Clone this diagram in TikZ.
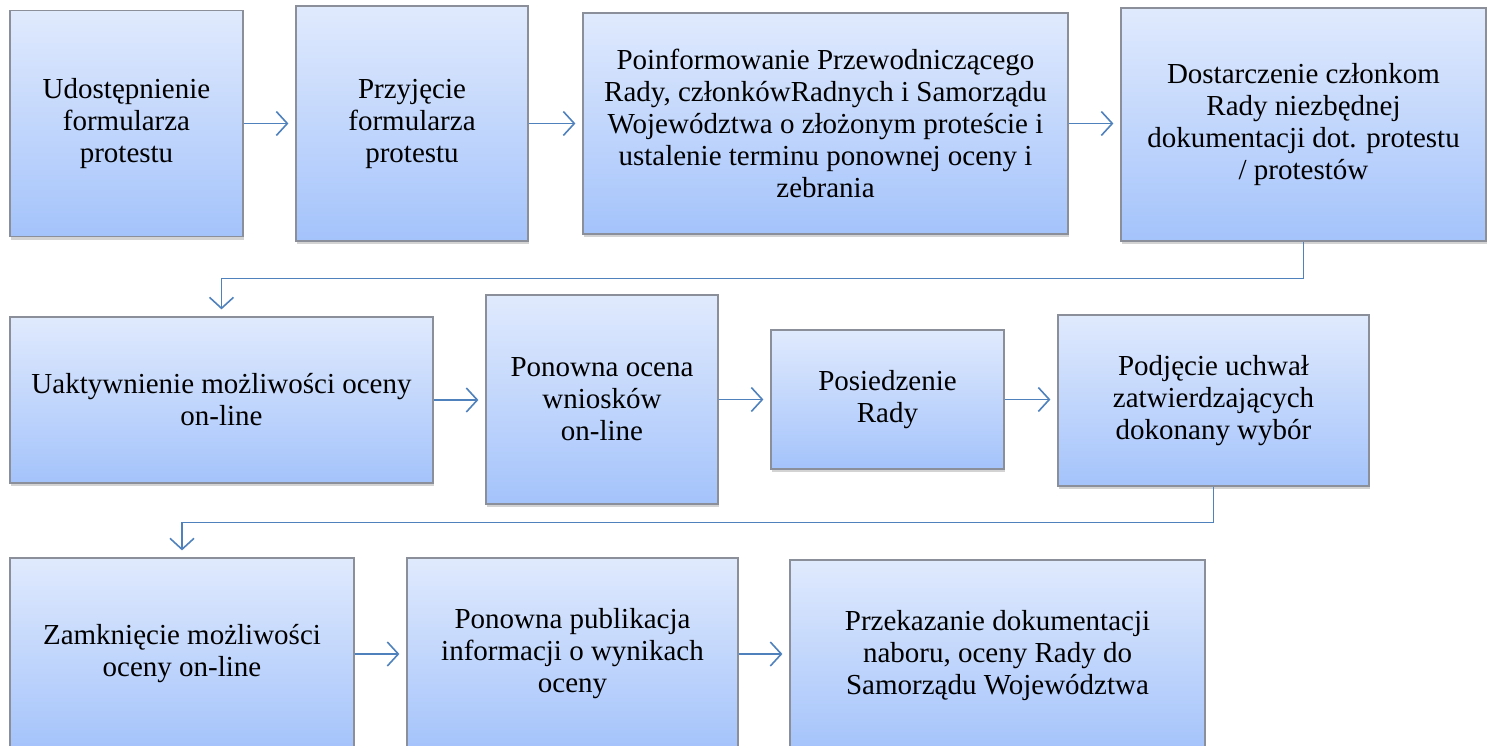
\documentclass[tikz,border=0pt]{standalone}
\usepackage{fontspec}
\setmainfont{Liberation Serif}
\usetikzlibrary{arrows.meta, shadows}

\definecolor{boxtop}{HTML}{E0EAFD}
\definecolor{boxbot}{HTML}{A4C3FB}
\definecolor{boxedge}{HTML}{8A8F99}
\definecolor{linkblue}{HTML}{4F81BD}

\begin{document}
\begin{tikzpicture}[
    x=1pt, y=-1pt,
    proc/.style={draw=boxedge, line width=1.2pt, top color=boxtop, bottom color=boxbot,
                 align=center, inner sep=4pt,
                 font=\fontsize{29}{32}\selectfont,
                 drop shadow={shadow xshift=1pt, shadow yshift=-3pt, opacity=0.35}},
    arr/.style={-{Straight Barb[length=11pt, width=24pt, line width=1.6pt]},
                line width=1.6pt, linkblue, shorten >=7pt}
]
\useasboundingbox (0,0) rectangle (1492,745);

% ---- Row 1 ----
\node[proc, minimum width=233pt, minimum height=226pt] (b1) at (126.5, 123.5)
    {Udostępnienie\\formularza\\protestu};
\node[proc, minimum width=232pt, minimum height=235pt] (b2) at (412, 123.5)
    {Przyjęcie\\formularza\\protestu};
\node[proc, minimum width=485pt, minimum height=221pt] (b3) at (825.5, 123.5)
    {Poinformowanie Przewodniczącego\\Rady, członkówRadnych i Samorządu\\Województwa o złożonym proteście i\\ustalenie terminu ponownej oceny i\\zebrania};
\node[proc, minimum width=365pt, minimum height=233pt] (b4) at (1303.5, 124.5)
    {Dostarczenie członkom\\Rady niezbędnej\\dokumentacji dot. protestu\\/ protestów};

% ---- Row 2 ----
\node[proc, minimum width=423pt, minimum height=166pt] (b5) at (221.5, 400)
    {Uaktywnienie możliwości oceny\\on-line};
\node[proc, minimum width=232pt, minimum height=209pt] (b6) at (602, 399.5)
    {Ponowna ocena\\wniosków\\on-line};
\node[proc, minimum width=233pt, minimum height=139pt] (b7) at (887.5, 399.5)
    {Posiedzenie\\Rady};
\node[proc, minimum width=311pt, minimum height=171pt] (b8) at (1213.5, 400.5)
    {Podjęcie uchwał\\zatwierdzających\\dokonany wybór};

% ---- Row 3 ----
\node[proc, minimum width=344pt, minimum height=192pt] (b9) at (182, 654)
    {Zamknięcie możliwości\\oceny on-line};
\node[proc, minimum width=331pt, minimum height=192pt] (b10) at (572.5, 654)
    {Ponowna publikacja\\informacji o wynikach\\oceny};
\node[proc, minimum width=415pt, minimum height=192pt] (b11) at (997.5, 656)
    {Przekazanie dokumentacji\\naboru, oceny Rady do\\Samorządu Województwa};

% ---- Connectors ----
\draw[arr] (b1.east) -- (b1.east -| b2.west);
\draw[arr] (b2.east) -- (b2.east -| b3.west);
\draw[arr] (b3.east) -- (b3.east -| b4.west);
\draw[arr] (b4.south) -- ++(0,37) -| (b5.north);

\draw[arr] (b5.east) -- (b5.east -| b6.west);
\draw[arr] (b6.east) -- (b6.east -| b7.west);
\draw[arr] (b7.east) -- (b7.east -| b8.west);
\draw[arr] (b8.south) -- ++(0,36) -| (b9.north);

\draw[arr] (b9.east) -- (b9.east -| b10.west);
\draw[arr] (b10.east) -- (b10.east -| b11.west);

\end{tikzpicture}
\end{document}
